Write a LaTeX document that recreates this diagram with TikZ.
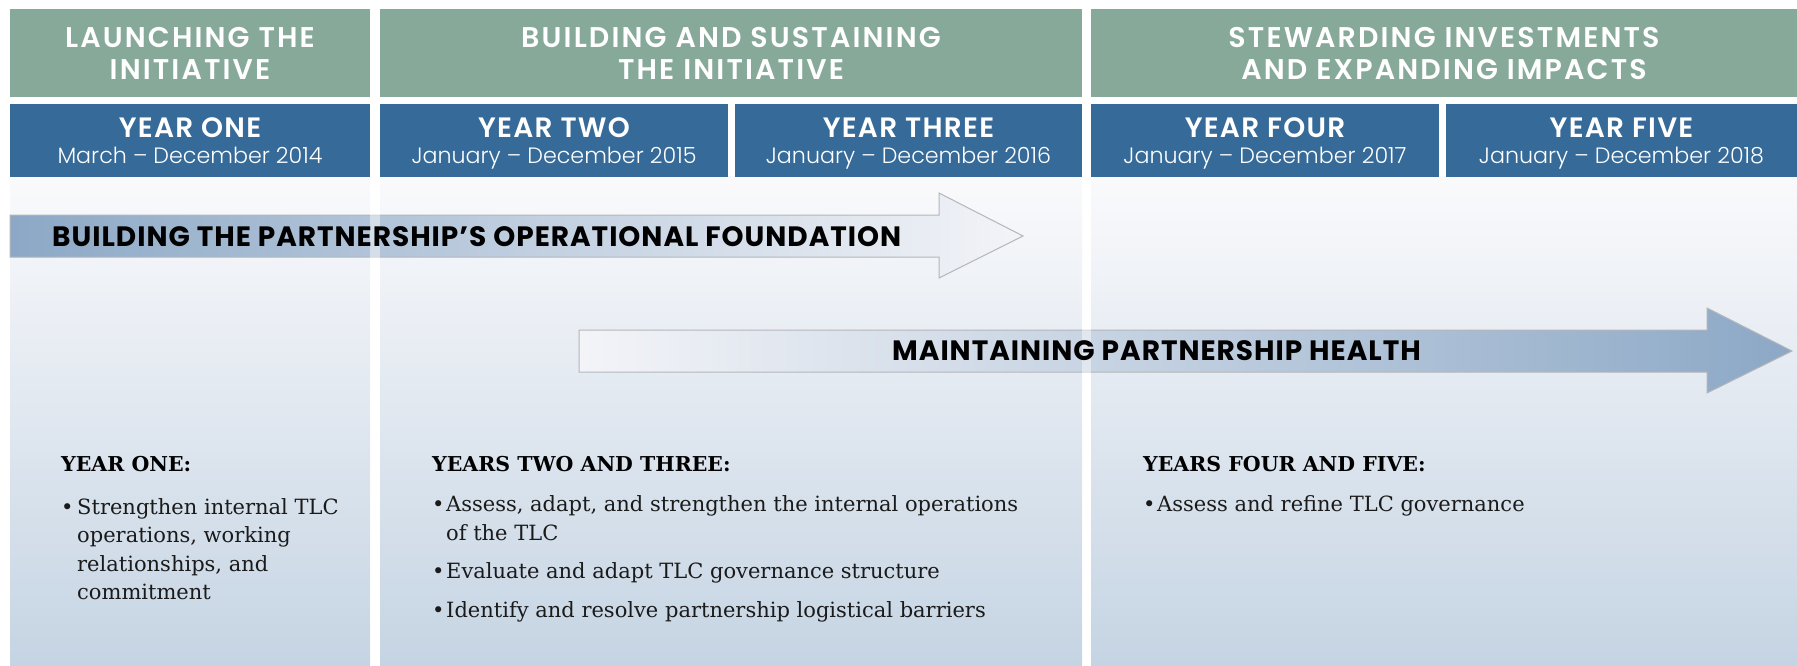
\documentclass[tikz,border=0pt]{standalone}
\usepackage{fontspec}
\newfontfamily\hdr{Poppins}
\newfontfamily\hdrsb{Poppins SemiBold}
\newfontfamily\hdrl{Poppins Light}
\newfontfamily\ser{DejaVu Serif}
\definecolor{hgreen}{HTML}{86A99A}
\definecolor{hblue}{HTML}{366A98}
\definecolor{bodytop}{HTML}{FAFAFC}
\definecolor{bodybot}{HTML}{C5D4E3}
\definecolor{arrdark}{HTML}{8CA8C6}
\definecolor{arrlight}{HTML}{F3F4F8}
\definecolor{arrline}{HTML}{B4B6BA}
\definecolor{txt}{HTML}{1A1A1A}
\tikzset{
  phase/.style={font=\hdrsb\addfontfeatures{LetterSpace=7.5}\fontsize{28.5}{32}\selectfont, text=white, anchor=base, inner sep=0pt},
  yearlbl/.style={font=\hdrsb\addfontfeatures{LetterSpace=4.5}\fontsize{28}{32}\selectfont, text=white, anchor=base, inner sep=0pt},
  datelbl/.style={font=\hdrl\fontsize{22.2}{26}\selectfont, text=white, anchor=base, inner sep=0pt},
  arrlbl/.style={font=\hdr\bfseries\addfontfeatures{LetterSpace=3.5}\fontsize{28}{32}\selectfont, text=black, anchor=base west, inner sep=0pt},
  colhead/.style={font=\ser\bfseries\fontsize{20.5}{28}\selectfont, text=black, anchor=base west, inner sep=0pt},
  bodyln/.style={font=\ser\fontsize{21}{28}\selectfont, text=txt, anchor=base west, inner sep=0pt},
  bigarrow/.style={draw=arrline, line width=1pt}
}
\begin{document}
\begin{tikzpicture}[x=1pt,y=-1pt]
\useasboundingbox (0,0) rectangle (1797,666);
\fill[white] (0,0) rectangle (1797,666);
% body columns
\shade[top color=bodytop,bottom color=bodybot] (10,177) rectangle (370,666);
\shade[top color=bodytop,bottom color=bodybot] (380,177) rectangle (1082,666);
\shade[top color=bodytop,bottom color=bodybot] (1091,177) rectangle (1797,666);
% phase boxes
\fill[hgreen] (10,9) rectangle (370,97);
\fill[hgreen] (380,9) rectangle (1082,97);
\fill[hgreen] (1091,9) rectangle (1797,97);
% year boxes
\fill[hblue] (10,104) rectangle (370,177);
\fill[hblue] (380,104) rectangle (728,177);
\fill[hblue] (735,104) rectangle (1082,177);
\fill[hblue] (1091,104) rectangle (1439,177);
\fill[hblue] (1446,104) rectangle (1797,177);
% phase titles
\node[phase] (p1a) at (190,47.5) {LAUNCHING THE};
\node[phase] (p1b) at (190,79.5) {INITIATIVE};
\node[phase] (p2a) at (731,47.5) {BUILDING AND SUSTAINING};
\node[phase] (p2b) at (731,79.5) {THE INITIATIVE};
\node[phase] (p3a) at (1444,47.5) {STEWARDING INVESTMENTS};
\node[phase] (p3b) at (1444,79.5) {AND EXPANDING IMPACTS};
% year titles
\node[yearlbl] (y1) at (190,137.5) {YEAR ONE};
\node[datelbl] (d1) at (190,163.5) {March – December 2014};
\node[yearlbl] (y2) at (554,137.5) {YEAR TWO};
\node[datelbl] (d2) at (554,163.5) {January – December 2015};
\node[yearlbl] (y3) at (908.5,137.5) {YEAR THREE};
\node[datelbl] (d3) at (908.5,163.5) {January – December 2016};
\node[yearlbl] (y4) at (1265,137.5) {YEAR FOUR};
\node[datelbl] (d4) at (1265,163.5) {January – December 2017};
\node[yearlbl] (y5) at (1621.5,137.5) {YEAR FIVE};
\node[datelbl] (d5) at (1621.5,163.5) {January – December 2018};
% arrows
\shadedraw[bigarrow, left color=arrdark, right color=arrlight] (10,215) -- (939,215) -- (939,193) -- (1023,236) -- (939,278) -- (939,257) -- (10,257) -- cycle;
\shadedraw[bigarrow, left color=arrlight, right color=arrdark] (579,330) -- (1707,330) -- (1707,308) -- (1792,351) -- (1707,393) -- (1707,372) -- (579,372) -- cycle;
\fill[white, opacity=0.45] (370,177) rectangle (380,666);
\fill[white, opacity=0.45] (1082,177) rectangle (1091,666);
\node[arrlbl] (a1) at (52,246.5) {BUILDING THE PARTNERSHIP’S OPERATIONAL FOUNDATION};
\node[arrlbl] (a2) at (892,360.5) {MAINTAINING PARTNERSHIP HEALTH};
% column texts
\node[colhead] (h1) at (61,471) {YEAR ONE:};
\node[bodyln] (b1) at (61,514) {•};
\node[bodyln] (t1a) at (77,514) {Strengthen internal TLC};
\node[bodyln] (t1b) at (77,542) {operations, working};
\node[bodyln] (t1c) at (77,571) {relationships, and};
\node[bodyln] (t1d) at (77,599) {commitment};
\node[colhead] (h2) at (432,471) {YEARS TWO AND THREE:};
\node[bodyln] (b2a) at (432,511) {•};
\node[bodyln] (t2a) at (446,511) {Assess, adapt, and strengthen the internal operations};
\node[bodyln] (t2b) at (446,540) {of the TLC};
\node[bodyln] (b2c) at (432,578) {•};
\node[bodyln] (t2c) at (446,578) {Evaluate and adapt TLC governance structure};
\node[bodyln] (b2d) at (432,617) {•};
\node[bodyln] (t2d) at (446,617) {Identify and resolve partnership logistical barriers};
\node[colhead] (h3) at (1143,471) {YEARS FOUR AND FIVE:};
\node[bodyln] (b3) at (1143,511) {•};
\node[bodyln] (t3a) at (1157,511) {Assess and refine TLC governance};
\end{tikzpicture}
\end{document}
